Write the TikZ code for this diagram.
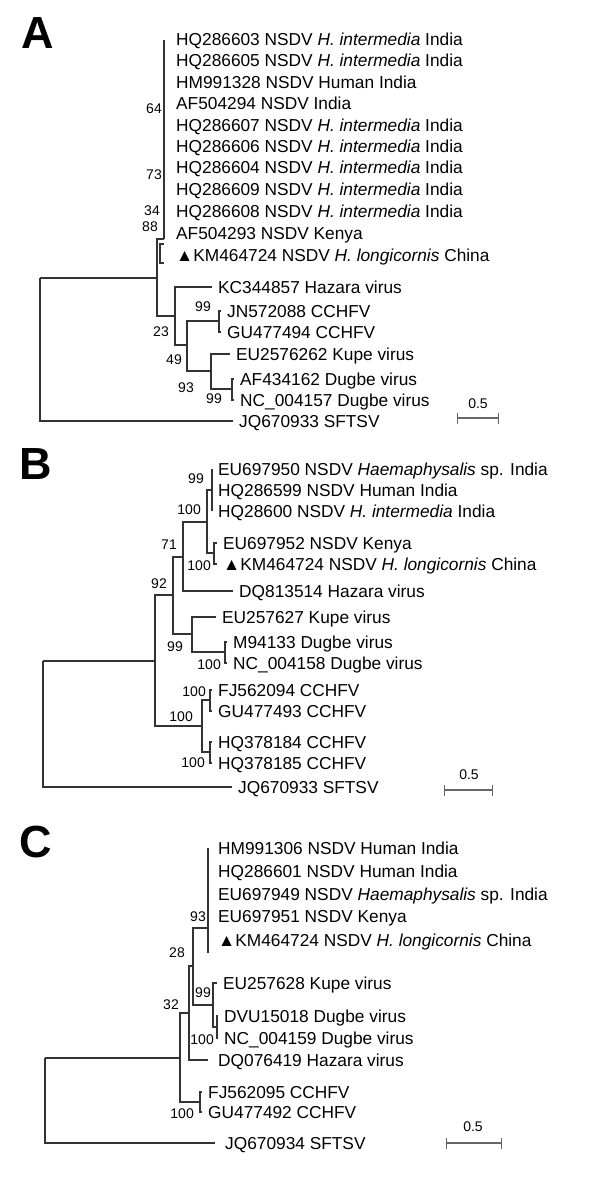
\documentclass[tikz,border=0pt]{standalone}
\usepackage{fontspec}
\setmainfont{Liberation Sans}
\usetikzlibrary{arrows.meta}

\begin{document}
\begin{tikzpicture}[x=1pt, y=-1pt,
    branch/.style={draw=black!80, line width=1.1pt},
    stem/.style={draw=black!80, line width=2.2pt},
    tip/.style={anchor=west, inner xsep=6pt, inner ysep=0pt, text height=12pt, text depth=0pt, font=\fontsize{17.3}{17.3}\selectfont},
    boot/.style={anchor=east, inner sep=0pt, font=\fontsize{14}{14}\selectfont},
    panel/.style={anchor=base west, inner sep=0pt, font=\fontsize{45}{45}\selectfont\bfseries},
    scalebar/.style={draw=black!60, line width=1.3pt, {Bar[width=11pt]}-{Bar[width=11pt]}},
    scalelabel/.style={inner sep=0pt, font=\fontsize{14}{14}\selectfont}]
\useasboundingbox (0,0) rectangle (600,1185);

% tree A
\node[panel] (pA) at (21,49) {A};
\node[tip] (tA1) at (170,40) {HQ286603 NSDV \textit{H. intermedia} India};
\node[tip] (tA2) at (170,61) {HQ286605 NSDV \textit{H. intermedia} India};
\node[tip] (tA3) at (170,83) {HM991328 NSDV Human India};
\node[tip] (tA4) at (170,104) {AF504294 NSDV India};
\node[tip] (tA5) at (170,126) {HQ286607 NSDV \textit{H. intermedia} India};
\node[tip] (tA6) at (170,147) {HQ286606 NSDV \textit{H. intermedia} India};
\node[tip] (tA7) at (170,168) {HQ286604 NSDV \textit{H. intermedia} India};
\node[tip] (tA8) at (170,190) {HQ286609 NSDV \textit{H. intermedia} India};
\node[tip] (tA9) at (170,211) {HQ286608 NSDV \textit{H. intermedia} India};
\node[tip] (tA10) at (170,233) {AF504293 NSDV Kenya};
\node[tip] (tA11) at (170,255) {▲KM464724 NSDV \textit{H. longicornis} China};
\node[tip] (tA12) at (212,287) {KC344857 Hazara virus};
\node[tip] (tA13) at (221,311) {JN572088 CCHFV};
\node[tip] (tA14) at (221,332) {GU477494 CCHFV};
\node[tip] (tA15) at (230,354) {EU2576262 Kupe virus};
\node[tip] (tA16) at (234,379) {AF434162 Dugbe virus};
\node[tip] (tA17) at (234,400) {NC\_004157 Dugbe virus};
\node[tip] (tA18) at (233,421) {JQ670933 SFTSV};

\coordinate (nA0) at (40,278);
\coordinate (nA1) at (157,278);
\coordinate (nA2) at (164,239);
\coordinate (nA3) at (175,316);
\coordinate (nA4) at (187,345);
\coordinate (nA5) at (219,321);
\coordinate (nA6) at (211,371);
\coordinate (nA7) at (232,389);
\coordinate (kA1) at (160,244);
\coordinate (kA2) at (160,263);

\node[boot] (btA1) at (162,109) {64};
\node[boot] (btA2) at (162,175) {73};
\node[boot] (btA3) at (160,211) {34};
\node[boot] (btA4) at (158,227) {88};
\node[boot] (btA5) at (169,332) {23};
\node[boot] (btA6) at (182,360) {49};
\node[boot] (btA7) at (211,307) {99};
\node[boot] (btA8) at (194,388) {93};
\node[boot] (btA9) at (222,399) {99};

\draw[branch] (nA0) -- (nA1);
\draw[branch] (nA0) |- (tA18.west);
\draw[branch] (nA1) |- (nA2);
\draw[branch] (nA1) |- (nA3);
\draw[branch] (nA2) -- (nA2 |- tA1.west);
\draw[stem] (nA2 |- btA1.east) -- (nA2 |- btA2.east);
\draw[stem] (nA2 |- tA8.west) -- (nA2);
\draw[branch] (kA1 -| nA2) -- (kA1) -- (kA2) -- (kA2 -| nA2);
\draw[branch] (nA3) |- (tA12.west);
\draw[branch] (nA3) |- (nA4);
\draw[branch] (nA4) |- (nA5);
\draw[branch] (nA4) |- (nA6);
\draw[branch] (nA5) |- (tA13.west);
\draw[branch] (nA5) |- (tA14.west);
\draw[branch] (nA6) |- (tA15.west);
\draw[branch] (nA6) |- (nA7);
\draw[branch] (nA7) |- (tA16.west);
\draw[branch] (nA7) |- (tA17.west);

\coordinate (scA1) at (457,418);
\coordinate (scA2) at (499,418);
\draw[scalebar] (scA1) -- (scA2);
\node[scalelabel] (slA) at (478,404) {0.5};

% tree B
\node[panel] (pB) at (19,479) {B};
\node[tip] (tB1) at (212,469) {EU697950 NSDV \textit{Haemaphysalis} sp. India};
\node[tip] (tB2) at (212,490) {HQ286599 NSDV Human India};
\node[tip] (tB3) at (212,511) {HQ28600 NSDV \textit{H. intermedia} India};
\node[tip] (tB4) at (217,543) {EU697952 NSDV Kenya};
\node[tip] (tB5) at (217,564) {▲KM464724 NSDV \textit{H. longicornis} China};
\node[tip] (tB6) at (233,591) {DQ813514 Hazara virus};
\node[tip] (tB7) at (216,617) {EU257627 Kupe virus};
\node[tip] (tB8) at (227,642) {M94133 Dugbe virus};
\node[tip] (tB9) at (227,663) {NC\_004158 Dugbe virus};
\node[tip] (tB10) at (212,690) {FJ562094 CCHFV};
\node[tip] (tB11) at (212,711) {GU477493 CCHFV};
\node[tip] (tB12) at (212,742) {HQ378184 CCHFV};
\node[tip] (tB13) at (212,763) {HQ378185 CCHFV};
\node[tip] (tB14) at (232,787) {JQ670933 SFTSV};

\coordinate (nB0) at (43,661);
\coordinate (nB1) at (155,661);
\coordinate (nB2) at (173,595);
\coordinate (nB3) at (183,557);
\coordinate (nB4) at (207,522);
\coordinate (nB5) at (212,490);
\coordinate (nB6) at (214,553);
\coordinate (nB7) at (192,634);
\coordinate (nB8) at (225,652);
\coordinate (nB9) at (202,726);
\coordinate (nB10) at (210,700);
\coordinate (nB11) at (210,752);

\node[boot] (btB1) at (204,479) {99};
\node[boot] (btB2) at (201,510) {100};
\node[boot] (btB3) at (177,545) {71};
\node[boot] (btB4) at (211,566) {100};
\node[boot] (btB5) at (167,584) {92};
\node[boot] (btB6) at (183,647) {99};
\node[boot] (btB7) at (221,665) {100};
\node[boot] (btB8) at (206,692) {100};
\node[boot] (btB9) at (193,717) {100};
\node[boot] (btB10) at (205,763) {100};

\draw[branch] (nB0) -- (nB1);
\draw[branch] (nB0) |- (tB14.west);
\draw[branch] (nB1) |- (nB2);
\draw[branch] (nB1) |- (nB9);
\draw[branch] (nB2) |- (nB3);
\draw[branch] (nB2) |- (nB7);
\draw[branch] (nB3) |- (nB4);
\draw[branch] (nB3) |- (tB6.west);
\draw[branch] (nB4) |- (nB5);
\draw[branch] (nB4) |- (nB6);
\draw[branch] (nB5 |- tB1.west) -- (nB5 |- tB3.west);
\draw[branch] (nB6) |- (tB4.west);
\draw[branch] (nB6) |- (tB5.west);
\draw[branch] (nB7) |- (tB7.west);
\draw[branch] (nB7) |- (nB8);
\draw[branch] (nB8) |- (tB8.west);
\draw[branch] (nB8) |- (tB9.west);
\draw[branch] (nB9) |- (nB10);
\draw[branch] (nB9) |- (nB11);
\draw[branch] (nB10) |- (tB10.west);
\draw[branch] (nB10) |- (tB11.west);
\draw[branch] (nB11) |- (tB12.west);
\draw[branch] (nB11) |- (tB13.west);

\coordinate (scB1) at (444,790);
\coordinate (scB2) at (493,790);
\draw[scalebar] (scB1) -- (scB2);
\node[scalelabel] (slB) at (469,775) {0.5};

% tree C
\node[panel] (pC) at (19,857) {C};
\node[tip] (tC1) at (212,848) {HM991306 NSDV Human India};
\node[tip] (tC2) at (212,871) {HQ286601 NSDV Human India};
\node[tip] (tC3) at (212,894) {EU697949 NSDV \textit{Haemaphysalis} sp. India};
\node[tip] (tC4) at (212,916) {EU697951 NSDV Kenya};
\node[tip] (tC5) at (212,940) {▲KM464724 NSDV \textit{H. longicornis} China};
\node[tip] (tC6) at (217,983) {EU257628 Kupe virus};
\node[tip] (tC7) at (218,1016) {DVU15018 Dugbe virus};
\node[tip] (tC8) at (218,1038) {NC\_004159 Dugbe virus};
\node[tip, inner xsep=10pt] (tC9) at (208,1060) {DQ076419 Hazara virus};
\node[tip] (tC10) at (202,1092) {FJ562095 CCHFV};
\node[tip] (tC11) at (202,1112) {GU477492 CCHFV};
\node[tip, inner xsep=10pt] (tC12) at (215,1143) {JQ670934 SFTSV};

\coordinate (nC0) at (45,1058);
\coordinate (nC1) at (180,1058);
\coordinate (nC2) at (189,1013);
\coordinate (nC3) at (193,966);
\coordinate (nC4) at (208,928);
\coordinate (nC4e) at (208,953);
\coordinate (nC5) at (213,1005);
\coordinate (nC6) at (217,1027);
\coordinate (nC7) at (200,1102);

\node[boot] (btC1) at (206,917) {93};
\node[boot] (btC2) at (185,953) {28};
\node[boot] (btC3) at (211,993) {99};
\node[boot] (btC4) at (179,1005) {32};
\node[boot] (btC5) at (214,1040) {100};
\node[boot] (btC6) at (194,1114) {100};

\draw[branch] (nC0) -- (nC1);
\draw[branch] (nC0) |- (tC12.west);
\draw[branch] (nC1) |- (nC2);
\draw[branch] (nC1) |- (nC7);
\draw[branch] (nC2) |- (nC3);
\draw[branch] (nC2) |- (tC9.west);
\draw[branch] (nC3) |- (nC4);
\draw[branch] (nC3) |- (nC5);
\draw[branch] (nC4 |- tC1.west) -- (nC4e);
\draw[stem] (nC4 |- tC3.west) -- (nC4);
\draw[branch] (nC5) |- (tC6.west);
\draw[branch] (nC5) |- (nC6);
\draw[branch] (nC6) |- (tC7.west);
\draw[branch] (nC6) |- (tC8.west);
\draw[branch] (nC7) |- (tC10.west);
\draw[branch] (nC7) |- (tC11.west);

\coordinate (scC1) at (446,1143);
\coordinate (scC2) at (502,1143);
\draw[scalebar] (scC1) -- (scC2);
\node[scalelabel] (slC) at (473,1127) {0.5};
\end{tikzpicture}
\end{document}
